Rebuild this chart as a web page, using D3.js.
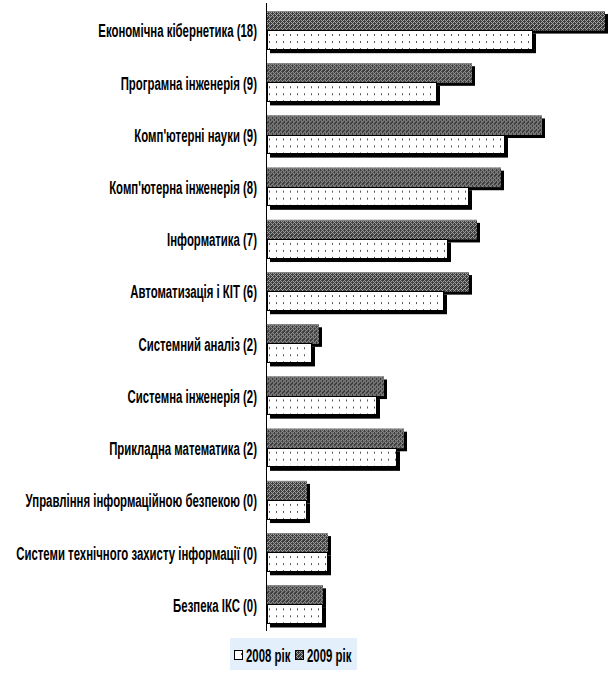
<!DOCTYPE html>
<html>
<head>
<meta charset="utf-8">
<script src="https://cdn.jsdelivr.net/npm/d3@7"></script>
<style>
  html, body { margin: 0; padding: 0; background: #fff; }
  svg { display: block; }
  text { font-family: "Liberation Sans", Arial, sans-serif; font-weight: bold; fill: #000; }
</style>
</head>
<body>
<div id="chart"></div>
<script>
// Speciality names (top to bottom)
const categories = [
  "Економічна кібернетика (18)",
  "Програмна інженерія (9)",
  "Комп'ютерні науки (9)",
  "Комп'ютерна інженерія (8)",
  "Інформатика (7)",
  "Автоматизація і КІТ (6)",
  "Системний аналіз (2)",
  "Системна інженерія (2)",
  "Прикладна математика (2)",
  "Управління інформаційною безпекою (0)",
  "Системи технічного захисту інформації (0)",
  "Безпека ІКС (0)"
];
const values2009 = [33.8, 20.5, 27.5, 23.4, 21.0, 20.2, 5.2, 11.7, 13.7, 4.0, 6.1, 5.6];
const values2008 = [26.6, 17.0, 23.8, 20.2, 18.1, 17.7, 4.5, 11.0, 13.0, 4.0, 6.1, 5.6];
const seriesNames = ["2008 рік", "2009 рік"];

const W = 611, H = 673;
const axisX = 267;
const fontSize = 19;
const squeeze = 0.6;   // tall condensed look for the bold labels

const svg = d3.select("#chart").append("svg")
  .attr("width", W).attr("height", H);

const defs = svg.append("defs");

// Dark cross-hatch fill for 2009
const p9 = defs.append("pattern")
  .attr("id", "hatch2009").attr("patternUnits", "userSpaceOnUse")
  .attr("width", 8).attr("height", 8);
p9.append("rect").attr("width", 8).attr("height", 8).attr("fill", "#3c3c3c");
[[0,0],[4,0],[1,1],[3,1],[5,1],[7,1],[2,2],[6,2],[1,3],[3,3],[5,3],[7,3],[0,4],[4,4],[1,5],[3,5],[5,5],[7,5],[2,6],[6,6],[1,7],[5,7]]
  .forEach(([x, y]) => p9.append("rect").attr("x", x).attr("y", y)
    .attr("width", 1).attr("height", 1).attr("fill", "#a8a8a8"));

// Light dotted fill for 2008
const p8 = defs.append("pattern")
  .attr("id", "dots2008").attr("patternUnits", "userSpaceOnUse")
  .attr("width", 7).attr("height", 7);
p8.append("rect").attr("width", 7).attr("height", 7).attr("fill", "#fff");
p8.append("rect").attr("x", 3).attr("y", 2).attr("width", 1).attr("height", 2).attr("fill", "#555");

const x = d3.scaleLinear().domain([0, 33.8]).range([axisX, 605]);
const y = d3.scaleBand().domain(categories).range([4.5, 631]).paddingInner(0.25).paddingOuter(0.125);
const sub = d3.scaleBand().domain(["2009", "2008"]).range([0, y.bandwidth()]);

const groups = svg.append("g").selectAll("g")
  .data(categories.map((c, i) => ({ c, v9: values2009[i], v8: values2008[i] })))
  .join("g")
  .attr("transform", d => `translate(0,${y(d.c)})`);

// drop shadows
groups.append("rect")
  .attr("x", axisX + 3).attr("y", 3)
  .attr("width", d => x(d.v9) - axisX).attr("height", sub.bandwidth())
  .attr("fill", "#000");
groups.append("rect")
  .attr("x", axisX + 3).attr("y", sub("2008") + 3)
  .attr("width", d => x(d.v8) - axisX).attr("height", sub.bandwidth())
  .attr("fill", "#000");

// 2009 bars
groups.append("rect")
  .attr("x", axisX).attr("y", sub("2009"))
  .attr("width", d => x(d.v9) - axisX).attr("height", sub.bandwidth())
  .attr("fill", "url(#hatch2009)");
groups.append("line")
  .attr("x1", axisX).attr("x2", d => x(d.v9))
  .attr("y1", 0.5).attr("y2", 0.5)
  .attr("stroke", "#888").attr("stroke-width", 1);

// 2008 bars
groups.append("rect")
  .attr("x", axisX).attr("y", sub("2008"))
  .attr("width", d => x(d.v8) - axisX - 1).attr("height", sub.bandwidth() - 1)
  .attr("fill", "url(#dots2008)")
  .attr("stroke", "#000").attr("stroke-width", 1)
  .attr("shape-rendering", "crispEdges");

// category axis line
svg.append("line")
  .attr("x1", axisX - 0.5).attr("x2", axisX - 0.5)
  .attr("y1", 3).attr("y2", 631)
  .attr("stroke", "#000").attr("stroke-width", 1);

// category labels
svg.append("g").selectAll("text")
  .data(categories)
  .join("text")
  .attr("transform", d => `translate(257,${y(d) + y.bandwidth() / 2}) scale(${squeeze},1)`)
  .attr("dy", "0.36em")
  .attr("text-anchor", "end")
  .attr("font-size", fontSize)
  .text(d => d);

// legend
const lg = svg.append("g");
lg.append("rect").attr("x", 230).attr("y", 638).attr("width", 127).attr("height", 32).attr("fill", "#e3effb");
const items = [
  { name: seriesNames[0], fill: "url(#dots2008)", x: 234 },
  { name: seriesNames[1], fill: "url(#hatch2009)", x: 295 }
];
items.forEach(it => {
  lg.append("rect").attr("x", it.x + 0.5).attr("y", 650.5).attr("width", 8).attr("height", 9)
    .attr("fill", it.fill).attr("stroke", "#000").attr("stroke-width", 1);
  lg.append("text")
    .attr("transform", `translate(${it.x + 12},655) scale(${squeeze},1)`)
    .attr("dy", "0.36em")
    .attr("font-size", fontSize).text(it.name);
});
</script>
</body>
</html>
